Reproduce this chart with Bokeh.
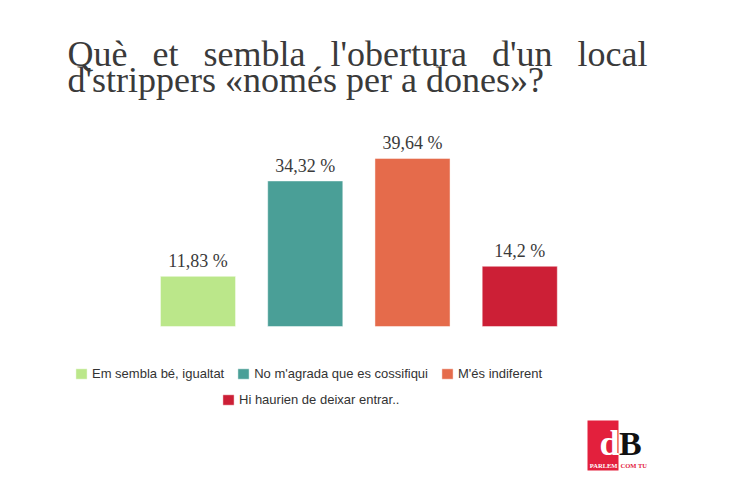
from bokeh.plotting import figure
from bokeh.models import (ColumnDataSource, Range1d, LabelSet, Label,
                          Legend, LegendItem, BoxAnnotation)
from bokeh.embed import file_html
from bokeh.resources import INLINE

# ---- data ----
categories = ["Em sembla bé, igualtat", "No m'agrada que es cossifiqui",
              "M'és indiferent", "Hi haurien de deixar entrar.."]
values = [11.83, 34.32, 39.64, 14.2]
colors = ["#BBE78A", "#4A9F97", "#E56B4B", "#CC1F36"]
value_labels = [str(v).replace(".", ",") + " %" for v in values]
title_line1 = ["Què", "et", "sembla", "l'obertura", "d'un", "local"]
title_line2 = "d'strippers «només per a dones»?"

# ---- layout constants (page pixels) ----
W, H = 714, 484
OX, OY = 0, 0            # page position of the figure's top-left corner
X0_PAGE = 197.5          # page x of first category centre
PPX = 107.25             # pixels per category
Y0_PAGE = 326            # page y of value 0
PPY = 4.24               # pixels per percentage point
BASE_FIX = 0.35          # Label baseline correction (fraction of font size)

x_range = Range1d((OX - X0_PAGE) / PPX, (OX + W - X0_PAGE) / PPX)
y_range = Range1d(-(OY + H - Y0_PAGE) / PPY, (Y0_PAGE - OY) / PPY)


def dx(px):
    return (px - X0_PAGE) / PPX


def dy(py):
    return (Y0_PAGE - py) / PPY


def text_label(px, py, txt, size, align="left", font="Liberation Serif",
               color="#3a3a3a", style="normal"):
    return Label(x=dx(px), y=dy(py - BASE_FIX * size), text=txt, text_align=align,
                 text_baseline="alphabetic", text_font=font, text_font_style=style,
                 text_font_size=f"{size}px", text_color=color)


src = ColumnDataSource(dict(idx=list(range(len(categories))), cat=categories,
                            val=values, col=colors, lab=value_labels))

p = figure(width=W, height=H, x_range=x_range, y_range=y_range,
           output_backend="svg", toolbar_location=None,
           min_border=0, x_axis_location=None, y_axis_location=None)
p.outline_line_color = None
p.grid.visible = False
p.background_fill_color = "white"
p.border_fill_color = "white"

r = p.vbar(x="idx", top="val", bottom=0, width=0.7, source=src, fill_color="col",
           line_color="white", line_alpha=0.45, line_width=1)

p.add_layout(LabelSet(x="idx", y="val", text="lab", source=src, y_offset=9,
                      text_align="center", text_baseline="alphabetic",
                      text_font="Liberation Serif", text_font_size="18px",
                      text_color="#3a3a3a"))

# ---- title (justified first line) ----
word_left = [67, 152.0, 203.0, 330.0, 491.5, 577.0]
for wtxt, wx in zip(title_line1, word_left):
    p.add_layout(text_label(wx, 66.5, wtxt, 36))
p.add_layout(text_label(67, 92, title_line2, 36))

# ---- legends ----
def make_legend(idxs, left_px, bottom_px):
    items = [LegendItem(label=categories[i], renderers=[r], index=i) for i in idxs]
    return Legend(items=items, orientation="horizontal",
                  location=(left_px - OX, OY + H - bottom_px),
                  glyph_width=14, glyph_height=13, label_standoff=4, spacing=12,
                  padding=0, margin=0, border_line_color=None, background_fill_alpha=0,
                  label_text_font="Liberation Sans", label_text_font_size="13px",
                  label_text_color="#333333", label_height=13)

p.add_layout(make_legend([0, 1, 2], 74, 381))
p.add_layout(make_legend([3], 221, 407))

# ---- logo ----
p.add_layout(BoxAnnotation(left=dx(587), right=dx(618), top=dy(420), bottom=dy(470),
                           fill_color="#E3203D", fill_alpha=1, line_color=None))
p.add_layout(text_label(619, 455, "d", 36, align="right", color="white", style="bold"))
p.add_layout(text_label(618.5, 455, "B", 34, color="#111111", style="bold"))
p.add_layout(text_label(617, 467.5, "PARLEM", 6.5, align="right",
                        font="Liberation Sans Narrow", color="white", style="bold"))
p.add_layout(text_label(620, 467.5, "COM TU", 6.5,
                        font="Liberation Sans Narrow", color="#E3203D", style="bold"))

open("out.html", "w").write(file_html(p, INLINE))
